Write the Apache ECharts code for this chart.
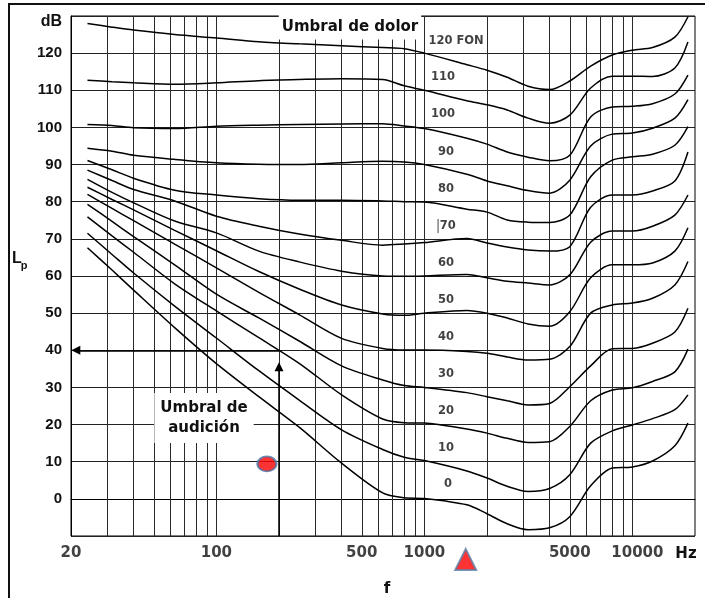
<!DOCTYPE html>
<html><head><meta charset="utf-8">
<script src="https://cdn.jsdelivr.net/npm/echarts@6/dist/echarts.min.js"></script>
<style>html,body{margin:0;padding:0;background:#fff}#c{width:705px;height:598px}</style>
</head><body><div id="c"></div>
<script>
// Frequencies (Hz) at which every equal-loudness contour is read
const freqs = [24, 31.5, 40, 63, 100, 160, 250, 400, 630, 800, 1000, 1600, 2000, 2500, 3150, 4000, 5000, 6300, 8000, 10000, 12500, 16000, 18500];
// Sound pressure level (dB) of each contour (phon) at those frequencies
const phon120 = [128.0, 127.0, 126.2, 125.0, 124.1, 123.1, 122.5, 122.0, 121.5, 121.2, 120.0, 116.9, 115.4, 113.5, 111.1, 110.2, 112.5, 116.5, 119.5, 120.8, 121.5, 124.3, 129.8];
const phon110 = [112.7, 112.3, 112.0, 111.6, 112.0, 112.6, 112.9, 113.1, 112.9, 111.2, 110.0, 107.2, 106.1, 104.7, 102.5, 101.1, 103.3, 110.6, 113.8, 113.8, 113.7, 116.0, 123.0];
const phon100 = [100.8, 100.5, 99.9, 99.7, 100.3, 100.6, 100.8, 100.9, 101.0, 100.4, 99.7, 97.1, 95.5, 93.4, 92.0, 91.0, 92.5, 102.8, 105.5, 105.7, 106.4, 109.0, 114.1];
const phon90  = [94.4, 93.6, 92.5, 91.4, 90.5, 90.1, 90.0, 90.5, 90.9, 90.7, 90.0, 87.4, 85.6, 84.3, 83.0, 82.3, 85.8, 95.0, 98.2, 98.5, 99.8, 102.5, 107.5];
const phon80  = [91.1, 88.6, 86.3, 83.1, 81.8, 80.8, 80.4, 80.4, 80.2, 80.0, 79.9, 78.0, 77.2, 75.1, 74.5, 74.4, 76.4, 86.7, 91.2, 92.1, 92.8, 95.2, 100.2];
const phon70  = [88.5, 85.7, 83.3, 80.2, 76.1, 73.4, 71.3, 69.6, 68.3, 68.6, 69.0, 70.1, 68.9, 67.8, 67.0, 66.7, 67.9, 78.5, 81.8, 81.8, 82.9, 85.6, 93.4];
const phon60  = [86.0, 82.5, 79.7, 74.8, 71.6, 66.7, 63.8, 61.3, 60.0, 59.9, 60.0, 60.4, 59.5, 58.6, 58.1, 57.6, 60.3, 69.1, 72.1, 72.1, 73.4, 76.4, 81.8];
const phon50  = [83.9, 80.6, 77.8, 72.3, 66.8, 61.2, 56.5, 52.2, 49.8, 49.4, 50.0, 50.7, 50.0, 48.7, 47.1, 46.5, 50.4, 59.5, 63.0, 63.0, 63.5, 66.7, 73.0];
const phon40  = [82.0, 78.2, 74.9, 68.6, 62.2, 55.6, 49.6, 43.2, 40.5, 40.1, 40.1, 39.7, 39.2, 38.2, 37.4, 37.6, 41.0, 50.0, 52.2, 52.7, 54.0, 57.6, 63.9];
const phon30  = [79.3, 74.7, 70.6, 63.0, 55.1, 48.7, 42.5, 35.8, 32.0, 30.5, 30.0, 28.6, 27.5, 26.4, 25.3, 25.7, 30.2, 35.8, 40.4, 40.5, 41.9, 44.9, 51.3];
const phon20  = [75.9, 70.8, 66.4, 57.9, 50.6, 43.4, 36.5, 28.0, 21.5, 20.5, 20.4, 18.8, 17.7, 16.3, 15.2, 15.4, 19.5, 26.4, 29.3, 29.9, 31.6, 34.2, 40.3];
const phon10  = [71.5, 65.8, 60.8, 51.9, 43.3, 34.5, 26.6, 18.6, 13.3, 11.2, 10.3, 7.5, 5.6, 3.4, 2.0, 2.8, 6.5, 15.0, 18.3, 19.9, 21.6, 24.0, 28.0];
const phon0   = [67.6, 61.6, 56.2, 46.1, 36.4, 27.5, 19.3, 9.6, 1.6, 0.3, 0.1, -1.6, -4.0, -6.7, -8.3, -7.8, -4.8, 3.5, 8.3, 8.6, 10.2, 14.3, 20.4];

// Contour labels and where they sit (Hz, dB)
const curveLabels = ['0', '10', '20', '30', '40', '50', '60', '{bar||}70', '80', '90', '100', '110', '120 FON'];
const labelFreqs  = [1300, 1270, 1270, 1270, 1270, 1270, 1270, 1270, 1270, 1270, 1230, 1230, 1420];
const labelDb     = [3.9, 13.7, 23.7, 33.6, 43.6, 53.4, 63.5, 73.4, 83.4, 93.4, 103.6, 113.5, 123.2];

// Axis ticks
const gridFreqs = [30, 40, 50, 60, 70, 80, 90, 100, 200, 300, 400, 500, 600, 700, 800, 900, 1000, 2000, 3000, 4000, 5000, 6000, 7000, 8000, 9000, 10000];
const xTickValues = [20, 100, 500, 1000, 5000, 10000];
const xTickLabels = ['20', '100', '500', '1000', '5000', '10000'];

// Markers and arrows
const hearingPoint = [175, 9.4];
const triangleMarker = [1580, -16.3];
const arrowFreq = 200;
const arrowDb = 40;

const curves = [phon0, phon10, phon20, phon30, phon40, phon50, phon60, phon70, phon80, phon90, phon100, phon110, phon120];

const chart = echarts.init(document.getElementById('c'), null, {renderer: 'canvas'});
const BOLD_D = 'DejaVu Sans';
const series = [];

// vertical grid lines
series.push({
  type: 'line', data: [[1000, 50]], showSymbol: false, lineStyle: {width: 0, opacity: 0}, silent: true, z: 1,
  markLine: {
    silent: true, z: 1, symbol: 'none', label: {show: false}, animation: false,
    lineStyle: {color: '#2a2a2a', width: 1, type: 'solid'},
    emphasis: {disabled: true},
    data: gridFreqs.map(f => ({xAxis: f}))
  }
});

curves.forEach(arr => {
  series.push({
    type: 'line', silent: true, z: 3, showSymbol: false, smooth: 0.3,
    lineStyle: {color: '#000', width: 1.5},
    data: freqs.map((f, i) => [f, arr[i]])
  });
});

series.push({
  type: 'scatter', silent: true, z: 4, symbolSize: 0, itemStyle: {color: 'transparent'},
  data: labelFreqs.map((f, i) => [f, labelDb[i]]),
  label: {
    show: true, position: 'inside', color: '#111',
    fontFamily: BOLD_D, fontWeight: 'bold', fontSize: 11.5,
    formatter: p => curveLabels[p.dataIndex],
    rich: {bar: {fontFamily: 'Liberation Sans', fontWeight: 'normal', fontSize: 14, color: '#333'}}
  }
});

// arrows
series.push({
  type: 'line', data: [[1000, 50]], showSymbol: false, lineStyle: {width: 0, opacity: 0}, silent: true, z: 4,
  markLine: {
    silent: true, z: 4, symbol: ['none', 'triangle'], symbolSize: 9, label: {show: false}, animation: false,
    lineStyle: {color: '#000', width: 1.5, type: 'solid'},
    emphasis: {disabled: true},
    data: [
      [{coord: [arrowFreq, -10]}, {coord: [arrowFreq, arrowDb - 4.4]}],
      [{coord: [arrowFreq, arrowDb]}, {coord: [21.1, arrowDb]}]
    ]
  }
});

series.push({
  type: 'scatter', silent: true, z: 5, clip: false,
  data: [hearingPoint], symbol: 'circle', symbolSize: [19, 15],
  itemStyle: {color: '#ff0000', borderColor: '#4a76a8', borderWidth: 2}
});
series.push({
  type: 'scatter', silent: true, z: 5, clip: false,
  data: [triangleMarker], symbol: 'triangle', symbolSize: [21, 21],
  itemStyle: {color: '#ff0000', borderColor: '#5a7ea8', borderWidth: 2}
});

// x tick labels
series.push({
  type: 'scatter', silent: true, z: 5, clip: false, symbolSize: 0, itemStyle: {color: 'transparent'},
  data: xTickValues.map((v, i) => ({value: [v, -10], label: {offset: [xTickLabels[i] === '10000' ? 5 : 0, 0]}})),
  label: {
    show: true, position: 'bottom', distance: 10, color: '#111',
    fontFamily: BOLD_D, fontWeight: 'bold', fontSize: 15,
    formatter: p => xTickLabels[p.dataIndex]
  }
});

chart.setOption({
  animation: false,
  backgroundColor: '#fff',
  grid: {left: 71, top: 16, right: 10, bottom: 62, show: true, borderColor: '#000', borderWidth: 1, backgroundColor: 'transparent'},
  xAxis: {
    type: 'log', logBase: 10, min: 20, max: 20000,
    axisLine: {show: true, lineStyle: {color: '#000', width: 1}},
    axisTick: {show: false}, axisLabel: {show: false},
    splitLine: {show: false}, minorSplitLine: {show: false}
  },
  yAxis: {
    type: 'value', min: -10, max: 130, interval: 10,
    axisLine: {show: true, lineStyle: {color: '#000', width: 1}},
    axisTick: {show: false},
    splitLine: {show: true, lineStyle: {color: '#222', width: 1}},
    axisLabel: {
      margin: 9, color: '#111', fontFamily: 'Liberation Sans', fontWeight: 'bold', fontSize: 15,
      formatter: v => v === 130 ? '{u|dB}' : (v < 0 ? '' : String(v)),
      rich: {u: {fontFamily: 'Liberation Sans', fontWeight: 'bold', fontSize: 16, color: '#111', padding: [12, 0, 0, 0]}}
    }
  },
  graphic: [
    {type: 'rect', z: 10, silent: true, shape: {x: 9, y: 4, width: 720, height: 620}, style: {fill: 'none', stroke: '#111', lineWidth: 2}},
    {type: 'text', z: 2, silent: true, x: 350, y: 27, style: {text: 'Umbral de dolor', align: 'center', verticalAlign: 'middle', font: 'bold 15px "DejaVu Sans"', fill: '#111', backgroundColor: '#fff', padding: [5, 3, 5, 3]}},
    {type: 'text', z: 2, silent: true, x: 204, y: 418, style: {text: 'Umbral de\naudición', align: 'center', verticalAlign: 'middle', font: 'bold 15px "DejaVu Sans"', lineHeight: 20, fill: '#111', backgroundColor: '#fff', padding: [5, 6, 5, 6]}},
    {type: 'text', z: 10, silent: true, x: 686, y: 554, style: {text: 'Hz', align: 'center', verticalAlign: 'middle', font: 'bold 15px "DejaVu Sans"', fill: '#111'}},
    {type: 'text', z: 10, silent: true, x: 387, y: 589, style: {text: 'f', align: 'center', verticalAlign: 'middle', font: 'bold 15px "DejaVu Sans"', fill: '#111'}},
    {type: 'text', z: 10, silent: true, x: 17, y: 259, style: {text: 'L', align: 'center', verticalAlign: 'middle', font: 'bold 16px "Liberation Sans"', fill: '#111'}},
    {type: 'text', z: 10, silent: true, x: 24, y: 266, style: {text: 'p', align: 'center', verticalAlign: 'middle', font: 'bold 11px "Liberation Sans"', fill: '#111'}}
  ],
  series: series
});
</script>
</body></html>
